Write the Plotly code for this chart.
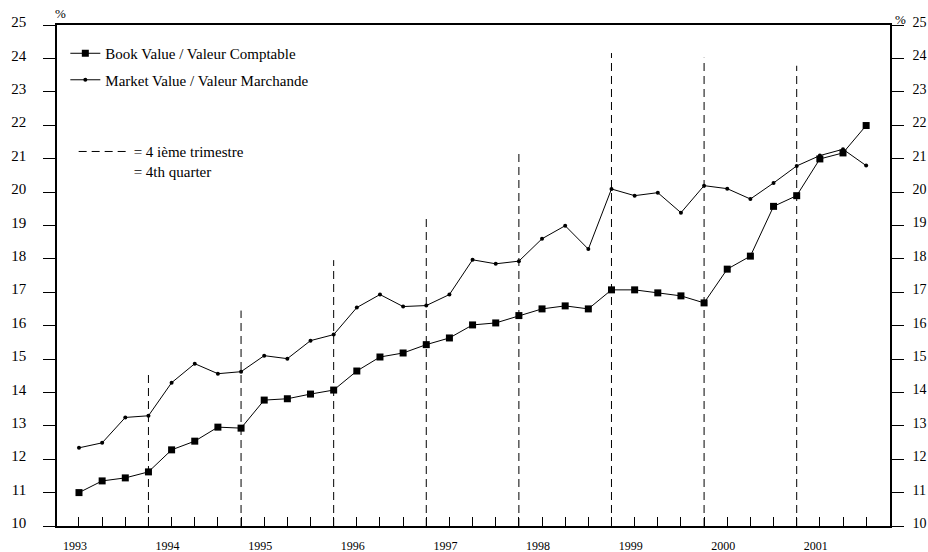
import plotly.graph_objects as go

# Quarters 1993Q1 .. 2001Q3
years = [1993, 1994, 1995, 1996, 1997, 1998, 1999, 2000, 2001]
quarter_idx = list(range(35))

book_value = [11.00, 11.35, 11.44, 11.62, 12.28, 12.54, 12.96, 12.93,
              13.77, 13.81, 13.95, 14.07, 14.64, 15.06, 15.18, 15.43,
              15.63, 16.02, 16.08, 16.30, 16.50, 16.59, 16.50, 17.07,
              17.07, 16.98, 16.89, 16.68, 17.69, 18.08, 19.57, 19.89,
              20.99, 21.17, 21.99]

market_value = [12.34, 12.49, 13.25, 13.30, 14.29, 14.86, 14.56, 14.62,
                15.10, 15.01, 15.55, 15.73, 16.54, 16.93, 16.57, 16.60,
                16.93, 17.97, 17.85, 17.93, 18.60, 18.99, 18.29, 20.09,
                19.89, 19.98, 19.38, 20.19, 20.10, 19.79, 20.27, 20.78,
                21.09, 21.28, 20.79]

# 4th quarter guide lines (quarter index, top value)
q4_idx = [3, 7, 11, 15, 19, 23, 27, 31]
q4_top = [14.65, 16.45, 17.96, 19.25, 21.21, 24.16, 24.02, 23.78]

y_ticks = list(range(10, 26))

FONT = "Liberation Serif"

tick_text = []
for i in quarter_idx:
    tick_text.append(str(years[i // 4]) if i % 4 == 0 else "")

gx, gy = [], []
for q, t in zip(q4_idx, q4_top):
    gx += [q, q, None]
    gy += [10, t, None]

fig = go.Figure()

fig.add_trace(go.Scatter(
    x=gx, y=gy, mode="lines",
    line=dict(color="black", width=1, dash="8px,5px"),
    name="= 4 ième trimestre<br>= 4th quarter",
    legend="legend2", hoverinfo="skip"))

fig.add_trace(go.Scatter(
    x=quarter_idx, y=book_value, mode="lines+markers",
    line=dict(color="black", width=1),
    marker=dict(symbol="square", size=7, color="black"),
    name="Book Value / Valeur Comptable", legendgroup="book"))

fig.add_trace(go.Scatter(
    x=quarter_idx, y=market_value, mode="lines+markers",
    line=dict(color="black", width=1),
    marker=dict(symbol="circle", size=4, color="black"),
    name="Market Value / Valeur Marchande", legendgroup="market"))

# invisible trace to activate right axis
fig.add_trace(go.Scatter(x=[quarter_idx[0]], y=[10], yaxis="y2", mode="markers",
                         marker=dict(opacity=0), showlegend=False, hoverinfo="skip"))

fig.update_layout(
    width=928, height=552,
    margin=dict(l=57, r=38, t=25, b=26, autoexpand=False),
    paper_bgcolor="white", plot_bgcolor="white",
    font=dict(family=FONT, color="black"),
    xaxis=dict(
        range=[-0.95, 35.03], tickmode="array", tickvals=quarter_idx, ticktext=tick_text,
        ticks="inside", ticklen=9, tickwidth=1, tickcolor="black", automargin=False,
        showline=True, linecolor="black", linewidth=1.5, mirror=True,
        showgrid=False, zeroline=False, tickfont=dict(size=12, family=FONT),
        ticklabelstandoff=8, ticklabelshift=-4),
    yaxis=dict(
        range=[10, 25], tickmode="array", tickvals=y_ticks, automargin=False,
        ticks="outside", ticklen=12, tickwidth=1, tickcolor="black",
        showline=True, linecolor="black", linewidth=1.5,
        showgrid=False, zeroline=False, tickfont=dict(size=15, family=FONT),
        ticklabelstandoff=14, ticklabelshift=-3),
    yaxis2=dict(
        range=[10, 25], tickmode="array", tickvals=y_ticks, overlaying="y", side="right",
        ticks="outside", ticklen=12, tickwidth=1, tickcolor="black", automargin=False,
        showline=True, linecolor="black", linewidth=1.5,
        showgrid=False, zeroline=False, tickfont=dict(size=14, family=FONT),
        ticklabelstandoff=6, ticklabelshift=-3),
    legend=dict(x=0.01, y=0.976, xanchor="left", yanchor="top",
                bgcolor="rgba(0,0,0,0)", font=dict(size=15, family=FONT),
                itemwidth=30, tracegroupgap=4, traceorder="grouped"),
    legend2=dict(x=0.02, y=0.78, xanchor="left", yanchor="top", valign="top",
                 bgcolor="rgba(0,0,0,0)", font=dict(size=15, family=FONT),
                 itemwidth=50),
    showlegend=True,
    annotations=[
        dict(text="%", xref="paper", yref="paper", x=0, y=1, xanchor="center", yanchor="bottom",
             xshift=3, yshift=2, showarrow=False, font=dict(size=13, family=FONT)),
        dict(text="%", xref="paper", yref="paper", x=1, y=1, xanchor="center", yanchor="bottom",
             xshift=10, yshift=-4, showarrow=False, font=dict(size=13, family=FONT)),
    ],
)

fig.write_html("out.html", config={"displayModeBar": False},
               post_script="document.body.style.margin='0';")
